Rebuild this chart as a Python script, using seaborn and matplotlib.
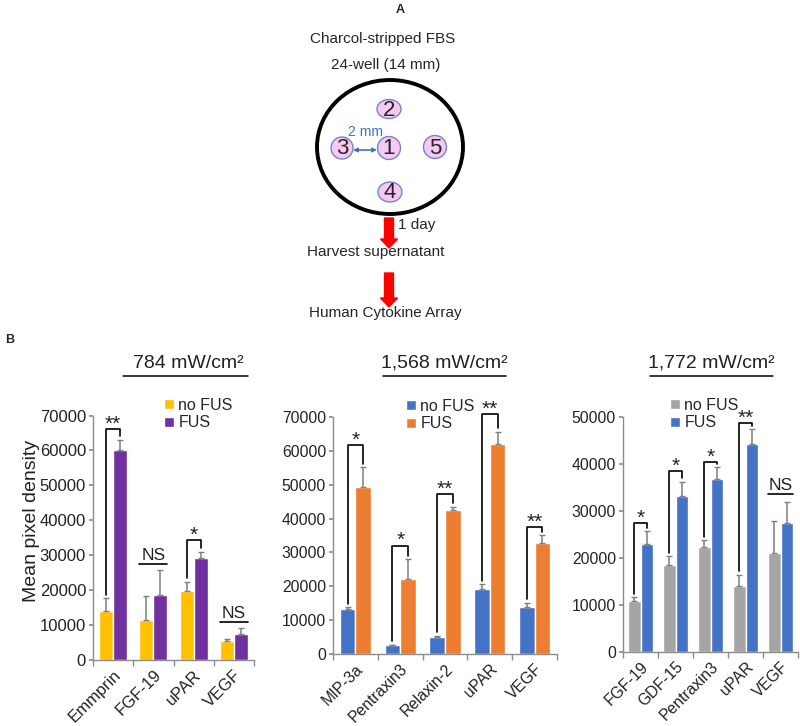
import matplotlib
matplotlib.use("Agg")
import matplotlib.pyplot as plt
import matplotlib.patches as mpatches
import numpy as np
import pandas as pd
import seaborn as sns

# ---- data ----
groups = ["no FUS", "FUS"]

p1_labels = ["Emmprin", "FGF-19", "uPAR", "VEGF"]
p1_nofus = [14200, 11500, 19800, 5500]
p1_fus = [60100, 18800, 29300, 7400]
p1_nofus_err = [3500, 7000, 2700, 500]
p1_fus_err = [2900, 7000, 1700, 1700]
p1_sig = ["**", "NS", "*", "NS"]
p1_bracket = [66100, 27500, 34400, 11000]

p2_labels = ["MIP-3a", "Pentraxin3", "Relaxin-2", "uPAR", "VEGF"]
p2_nofus = [13400, 2650, 5100, 19350, 13850]
p2_fus = [49200, 22200, 42500, 61900, 32800]
p2_nofus_err = [500, 200, 400, 1250, 1250]
p2_fus_err = [5900, 5800, 1000, 3700, 2300]
p2_sig = ["*", "*", "**", "**", "**"]
p2_bracket = [61700, 32000, 47300, 70800, 37500]

p3_labels = ["FGF-19", "GDF-15", "Pentraxin3", "uPAR", "VEGF"]
p3_nofus = [10950, 18450, 22350, 14100, 21100]
p3_fus = [22900, 33100, 36700, 44300, 27500]
p3_nofus_err = [750, 1950, 1450, 2400, 6800]
p3_fus_err = [2800, 3100, 2550, 3000, 4300]
p3_sig = ["*", "*", "*", "**", "NS"]
p3_bracket = [27500, 38500, 40400, 48700, 33500]

sns.set_theme(style="ticks")
plt.rcParams["font.family"] = ["Liberation Sans", "DejaVu Sans"]

fig = plt.figure(figsize=(8, 7.26), dpi=100)

# overlay in pixel coordinates for the diagram and panel headers
ov = fig.add_axes([0, 0, 1, 1])
ov.set_xlim(0, 800)
ov.set_ylim(726, 0)
ov.axis("off")


def draw_panel(ax, labels, nofus, fus, nofus_err, fus_err, sig, bracket,
               colors, ymax, fs, legend_xy):
    n = len(labels)
    df = pd.DataFrame({
        "protein": labels * 2,
        "group": [groups[0]] * n + [groups[1]] * n,
        "value": nofus + fus,
    })
    sns.barplot(data=df, x="protein", y="value", hue="group", hue_order=groups,
                palette=colors, width=0.7, saturation=1, errorbar=None, ax=ax)

    centers = []
    for cont, err in zip(ax.containers, [nofus_err, fus_err]):
        xs = [p.get_x() + p.get_width() / 2 for p in cont.patches]
        hs = [p.get_height() for p in cont.patches]
        ax.errorbar(xs, hs, yerr=[np.zeros(n), err], fmt="none",
                    ecolor="#7f7f7f", elinewidth=1.1, capsize=2, capthick=1)
        centers.append((xs, cont.patches))

    gap = 0.015 * ymax
    for i in range(n):
        xl = centers[0][0][i]
        xr = centers[1][0][i]
        top = bracket[i]
        if sig[i] == "NS":
            x0 = centers[0][1][i].get_x()
            x1 = centers[1][1][i].get_x() + centers[1][1][i].get_width()
            ax.plot([x0, x1], [top, top], color="black", lw=1.2, clip_on=False)
            ax.annotate("NS", (xl / 2 + xr / 2, top), xytext=(0, 3),
                        textcoords="offset points", ha="center", va="baseline",
                        fontsize=12.5, color="#222222", annotation_clip=False)
        else:
            yl = nofus[i] + nofus_err[i] + gap
            yr = fus[i] + fus_err[i] + gap
            ax.plot([xl, xl, xr, xr], [yl, top, top, yr], color="black",
                    lw=1.2, clip_on=False)
            ax.annotate(sig[i], (xl / 2 + xr / 2, top), xytext=(0, 3.5),
                        textcoords="offset points", ha="center", va="center",
                        fontsize=15, color="#222222", annotation_clip=False)

    ax.set_ylim(0, ymax)
    ax.set_yticks(np.arange(0, ymax + 1, 10000))
    ax.set_xlim(-0.5, n - 0.5)
    ax.set_xticks(np.arange(-0.5, n, 1), minor=True)
    ax.tick_params(axis="x", which="major", length=0, pad=5)
    ax.tick_params(axis="x", which="minor", length=4, color="#8c8c8c")
    ax.tick_params(axis="y", length=3, color="#8c8c8c", pad=2)
    ax.set_xticklabels(labels, rotation=45, ha="right", rotation_mode="anchor",
                       fontsize=fs, color="#222222")
    for t in ax.get_yticklabels():
        t.set_fontsize(fs)
        t.set_color("#222222")
    ax.set_xlabel("")
    ax.set_ylabel("")
    for s in ["top", "right"]:
        ax.spines[s].set_visible(False)
    for s in ["left", "bottom"]:
        ax.spines[s].set_color("#8c8c8c")
        ax.spines[s].set_linewidth(1)
    ax.set_facecolor("none")
    ax.legend(loc="upper left", bbox_to_anchor=legend_xy,
              bbox_transform=ov.transData, frameon=False, fontsize=11.5,
              handlelength=0.6, handleheight=0.6, handletextpad=0.3,
              labelspacing=0.15, borderpad=0, borderaxespad=0)


ax1 = fig.add_axes([93 / 800, 1 - 660.3 / 726, 161 / 800, 244.8 / 726])
ax2 = fig.add_axes([333 / 800, 1 - 654.3 / 726, 224 / 800, 237.6 / 726])
ax3 = fig.add_axes([623 / 800, 1 - 652.3 / 726, 175 / 800, 235.6 / 726])

draw_panel(ax1, p1_labels, p1_nofus, p1_fus, p1_nofus_err, p1_fus_err,
           p1_sig, p1_bracket, ["#FFC000", "#7030A0"], 70000, 12, (164, 398))
draw_panel(ax2, p2_labels, p2_nofus, p2_fus, p2_nofus_err, p2_fus_err,
           p2_sig, p2_bracket, ["#4472C4", "#ED7D31"], 70000, 11.3, (406, 399))
draw_panel(ax3, p3_labels, p3_nofus, p3_fus, p3_nofus_err, p3_fus_err,
           p3_sig, p3_bracket, ["#A5A5A5", "#4472C4"], 50000, 11.3, (670, 398))
ax1.set_ylabel("Mean pixel density", fontsize=14, color="#222222")
ax1.yaxis.set_label_coords(-0.33, 0.57)

# panel headers
for cx, x0, x1, txt in [(188, 123, 248, "784 mW/cm²"),
                        (444, 383, 506, "1,568 mW/cm²"),
                        (711, 650, 773, "1,772 mW/cm²")]:
    ov.text(cx, 363, txt, ha="center", va="center", fontsize=14, color="#222222")
    ov.plot([x0, x1], [376, 376], color="black", lw=1.1)

ov.text(5, 340, "B", fontsize=9, fontweight="bold", ha="left", va="center")
ov.text(400, 10, "A", fontsize=9, fontweight="bold", ha="center", va="center")

# ---- panel A diagram ----
ov.text(383, 39, "Charcol-stripped FBS", ha="center", va="center", fontsize=11)
ov.text(386, 65, "24-well (14 mm)", ha="center", va="center", fontsize=11)
ov.add_patch(mpatches.Ellipse((390, 147), 146, 134, fill=False, lw=2.8,
                              ec="black"))
wells = [("1", 389, 148, 23, 23), ("2", 389, 109, 24, 19),
         ("3", 342, 148, 22, 22), ("4", 390, 192, 24, 20),
         ("5", 435, 147, 23, 23)]
for lab, x, y, w, h in wells:
    ov.add_patch(mpatches.Ellipse((x, y), w, h, fc="#F6C8F2", ec="#6F86C8",
                                  lw=1))
    ov.text(x, y + 1, lab, ha="center", va="center", fontsize=16)
ov.text(365, 132, "2 mm", ha="center", va="center", fontsize=10,
        color="#4472C4")
ov.annotate("", xy=(353, 150), xytext=(377, 150),
            arrowprops=dict(arrowstyle="<|-|>", color="#4472C4", lw=1.2,
                            mutation_scale=6, shrinkA=0, shrinkB=0))

ov.add_patch(mpatches.FancyArrow(389, 218, 0, 30, width=9, head_width=17,
                                 head_length=9, length_includes_head=True,
                                 color="#FF0000"))
ov.add_patch(mpatches.FancyArrow(389, 273, 0, 34, width=9, head_width=17,
                                 head_length=9, length_includes_head=True,
                                 color="#FF0000"))
ov.text(398, 225, "1 day", ha="left", va="center", fontsize=11)
ov.text(376, 252, "Harvest supernatant", ha="center", va="center", fontsize=11)
ov.text(385, 313, "Human Cytokine Array", ha="center", va="center", fontsize=11)

fig.savefig("out.png", dpi=100, facecolor="white")
